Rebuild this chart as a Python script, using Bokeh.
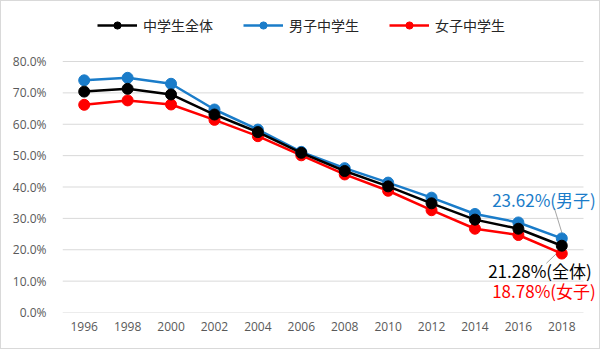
from bokeh.plotting import figure
from bokeh.models import Range1d, Legend, LegendItem, Label, PrintfTickFormatter, FixedTicker
from bokeh.embed import file_html
from bokeh.resources import INLINE

years = ["1996", "1998", "2000", "2002", "2004", "2006", "2008", "2010", "2012", "2014", "2016", "2018"]
total = [70.4, 71.3, 69.5, 63.1, 57.5, 50.9, 45.1, 40.2, 34.8, 29.6, 26.7, 21.28]
boys = [74.0, 74.8, 72.9, 64.7, 58.3, 51.2, 46.0, 41.4, 36.6, 31.4, 28.7, 23.62]
girls = [66.2, 67.6, 66.3, 61.4, 56.2, 50.1, 44.0, 38.8, 32.6, 26.7, 24.7, 18.78]
names = ["中学生全体", "男子中学生", "女子中学生"]
y_ticks = [0, 10, 20, 30, 40, 50, 60, 70, 80]

BLACK = "#000000"
BLUE = "#1a7cc9"
RED = "#ff0000"
CJK = "Noto Sans CJK JP"
LAT = "Open Sans"

# category positions (band centres), like a category axis
xs = [i + 0.5 for i in range(len(years))]
n = len(years)

p = figure(width=600, height=349, output_backend="svg", toolbar_location=None,
           x_range=Range1d(0, n * 537 / 521), y_range=Range1d(0, 80 * 311 / 251),
           min_border_left=61, min_border_right=2, min_border_top=0, min_border_bottom=38)
p.styles = {"border": "1px solid #d9d9d9"}
p.outline_line_color = None
p.background_fill_color = "white"
p.border_fill_color = "white"
p.xgrid.grid_line_color = None
p.ygrid.grid_line_color = None

# horizontal gridlines across the category area
p.segment(x0=[0] * len(y_ticks), x1=[n] * len(y_ticks), y0=y_ticks, y1=y_ticks,
          line_color="#d9d9d9", line_width=1)

p.yaxis.ticker = FixedTicker(ticks=y_ticks)
p.yaxis.formatter = PrintfTickFormatter(format="%.1f%%")
p.xaxis.ticker = FixedTicker(ticks=xs)
p.xaxis.major_label_overrides = {x: y for x, y in zip(xs, years)}
for ax in (p.xaxis, p.yaxis):
    ax.axis_line_color = None
    ax.major_tick_line_color = None
    ax.minor_tick_line_color = None
    ax.major_tick_in = 0
    ax.major_tick_out = 0
    ax.major_label_text_font = LAT
    ax.major_label_text_font_size = "12px"
    ax.major_label_text_color = "#595959"
p.yaxis.major_label_standoff = 16
p.xaxis.major_label_standoff = 9

# leader lines for 2018 labels
xi = xs[-1]
p.segment(x0=[xi - 0.17], y0=[boys[-1] + 9.6], x1=[xi + 0.02], y1=[boys[-1] + 1.0],
          line_color="#a6a6a6", line_width=1)
p.segment(x0=[xi - 0.355], y0=[total[-1] - 5.6], x1=[xi - 0.055], y1=[total[-1] - 1.6],
          line_color="#a6a6a6", line_width=1)

rs = {}
for vals, col, nm in ((girls, RED, names[2]), (boys, BLUE, names[1]), (total, BLACK, names[0])):
    l = p.line(xs, vals, line_color=col, line_width=2.5)
    s = p.scatter(xs, vals, size=11, fill_color=col, line_color=col)
    rs[nm] = [l, s]

legend = Legend(items=[LegendItem(label=nm, renderers=rs[nm]) for nm in names],
                orientation="horizontal", location=(35, 277),
                glyph_width=40, glyph_height=18, label_standoff=6, spacing=30,
                padding=4, margin=0, border_line_color=None, background_fill_alpha=0,
                label_text_font=CJK, label_text_font_size="14px", label_text_color="#262626")
p.add_layout(legend, "center")

for val, col, txt, dx, dy in ((boys[-1], BLUE, "%.2f%%(男子)" % boys[-1], 34, 39),
                              (total[-1], BLACK, "%.2f%%(全体)" % total[-1], 30, -25),
                              (girls[-1], RED, "%.2f%%(女子)" % girls[-1], 34, -37)):
    p.add_layout(Label(x=xi, y=val, text=txt, x_offset=dx, y_offset=dy,
                       text_align="right", text_baseline="middle",
                       text_font=CJK, text_font_size="17px", text_color=col))

open("out.html", "w").write(file_html(p, INLINE))
